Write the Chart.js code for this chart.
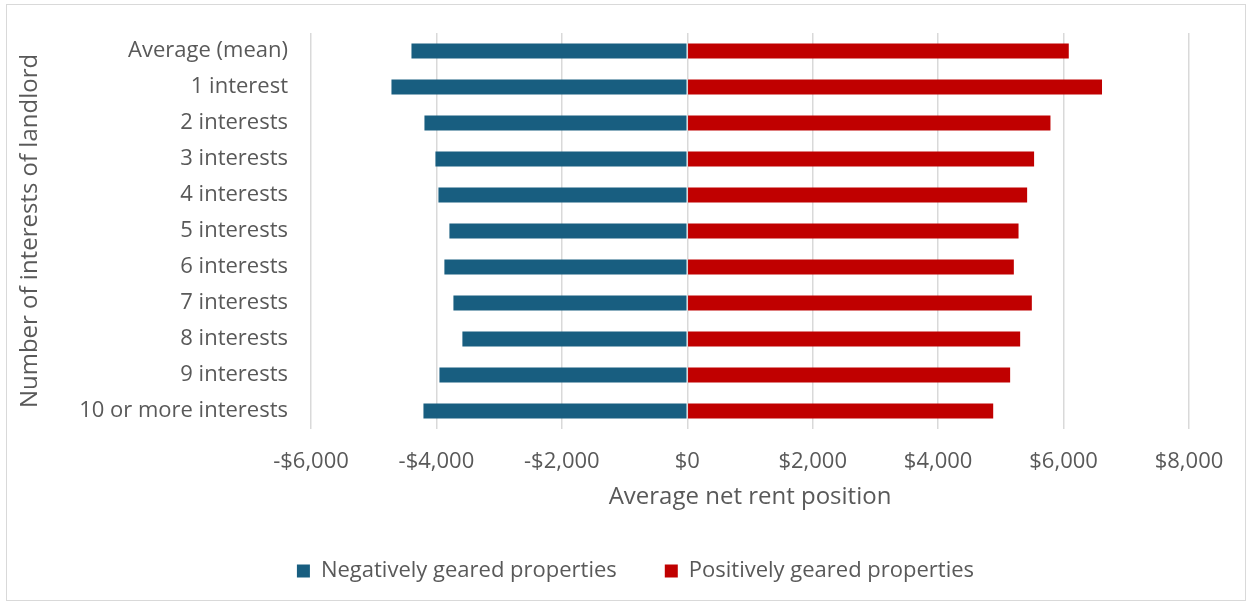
<!DOCTYPE html>
<html>
<head>
<meta charset="utf-8">
<script src="https://cdn.jsdelivr.net/npm/chart.js@4"></script>
<style>
    body { margin: 0; background: #fff; }
    #wrap { position: relative; width: 1250px; height: 605px; }
    #frame { position: absolute; left: 6px; top: 4px; width: 1240px; height: 597px; border: 1px solid #d9d9d9; box-sizing: border-box; pointer-events: none; }
</style>
</head>
<body>
<div id="wrap">
    <canvas id="chart-rent" width="1250" height="605"></canvas>
    <div id="frame"></div>
</div>
<script>
const categories = ['Average (mean)', '1 interest', '2 interests', '3 interests', '4 interests', '5 interests',
    '6 interests', '7 interests', '8 interests', '9 interests', '10 or more interests'];
const negativelyGeared = [-4398, -4717, -4191, -4016, -3968, -3793, -3873, -3729, -3586, -3952, -4207];
const positivelyGeared = [6083, 6613, 5791, 5530, 5419, 5282, 5207, 5494, 5308, 5148, 4878];
const xTicks = [-6000, -4000, -2000, 0, 2000, 4000, 6000, 8000];

const TEXT = '#595959';
const FONT = "'Open Sans', 'Noto Sans', sans-serif";

function money(v) {
    const s = '$' + Math.abs(v).toLocaleString('en-US');
    return v < 0 ? '-' + s : s;
}

// labels.padding also sets the gap between the two legend items,
// so pin the legend box height instead of letting it grow with it,
// and trim the row width so the trailing gap doesn't pull it off centre
const LEGEND_GAP = 48;
const LEGEND_HEIGHT = 93;
const LEGEND_SHIFT = 37;
const legendFit = {
    id: 'legendFit',
    beforeInit(chart) {
        const fit = chart.legend.fit;
        chart.legend.fit = function () {
            fit.call(this);
            this.height = LEGEND_HEIGHT;
            if (this.lineWidths) {
                this.lineWidths = this.lineWidths.map(w => w - 2 * LEGEND_SHIFT);
            }
        };
    }
};

new Chart(document.getElementById('chart-rent'), {
    type: 'bar',
    data: {
        labels: categories,
        datasets: [
            {
                label: 'Negatively geared properties',
                data: negativelyGeared,
                backgroundColor: '#185e80',
                barPercentage: 0.42,
                categoryPercentage: 1
            },
            {
                label: 'Positively geared properties',
                data: positivelyGeared,
                backgroundColor: '#c00000',
                barPercentage: 0.42,
                categoryPercentage: 1
            }
        ]
    },
    options: {
        indexAxis: 'y',
        responsive: false,
        animation: false,
        layout: { padding: { top: 33, right: 61, left: 8, bottom: 0 } },
        scales: {
            x: {
                stacked: true,
                min: -6000,
                max: 8000,
                afterBuildTicks: axis => { axis.ticks = xTicks.map(v => ({ value: v })); },
                afterFit: axis => { axis.height = 83; },
                grid: { color: '#d9d9d9', lineWidth: 1.5, drawTicks: false },
                border: { display: false },
                ticks: {
                    maxRotation: 0,
                    padding: 20,
                    color: TEXT,
                    font: { family: FONT, size: 22 },
                    callback: v => money(v)
                },
                title: {
                    display: true,
                    text: 'Average net rent position',
                    color: TEXT,
                    font: { family: FONT, size: 24 },
                    padding: { top: 0, bottom: 0 }
                }
            },
            y: {
                stacked: true,
                afterFit: axis => {
                    axis.width = 303;
                    // labels sit mid-band, no need to reserve room above/below
                    axis.paddingTop = 0;
                    axis.paddingBottom = 0;
                },
                grid: { display: false, drawTicks: false },
                border: { display: false },
                ticks: {
                    padding: 23,
                    color: TEXT,
                    font: { family: FONT, size: 22 }
                },
                title: {
                    display: true,
                    text: 'Number of interests of landlord',
                    color: TEXT,
                    font: { family: FONT, size: 24 },
                    padding: { top: 8, bottom: 0 }
                }
            }
        },
        plugins: {
            legend: {
                position: 'bottom',
                labels: {
                    color: TEXT,
                    font: { family: FONT, size: 22 },
                    boxWidth: 13,
                    boxHeight: 13,
                    padding: LEGEND_GAP
                }
            },
            tooltip: { enabled: false }
        }
    },
    plugins: [legendFit]
});
</script>
</body>
</html>
